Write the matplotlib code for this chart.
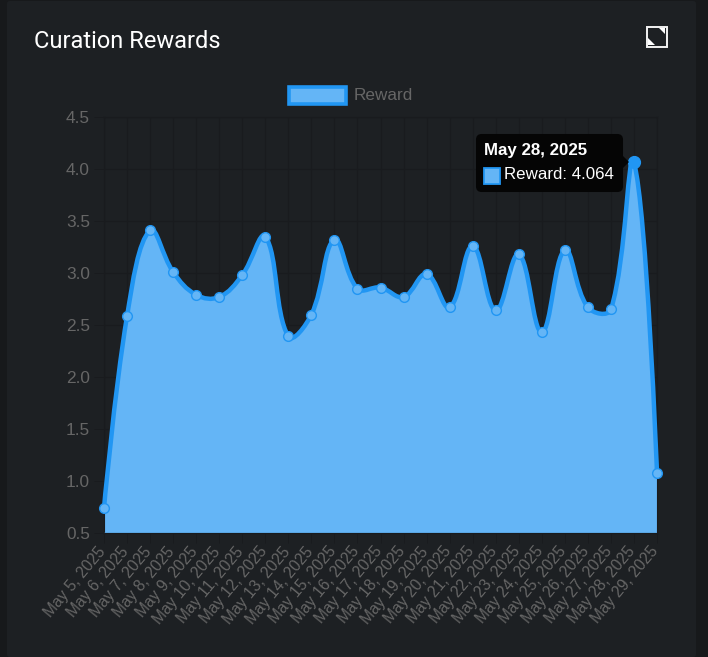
import matplotlib
matplotlib.use('Agg')
import matplotlib.pyplot as plt
from matplotlib.patches import FancyBboxPatch, PathPatch, Polygon, Rectangle
from matplotlib.path import Path
from matplotlib.transforms import ScaledTranslation
import numpy as np

days = list(range(5, 30))
labels = [f'May {d}, 2025' for d in days]
values = [0.74, 2.585, 3.41, 3.01, 2.79, 2.77, 2.98, 3.35, 2.39, 2.60, 3.32, 2.85, 2.86,
          2.77, 2.99, 2.67, 3.26, 2.64, 3.18, 2.43, 3.22, 2.67, 2.65, 4.064, 1.08]
y_ticks = [0.5, 1.0, 1.5, 2.0, 2.5, 3.0, 3.5, 4.0, 4.5]

W, H = 708, 657
OUTER = '#17191b'
PANEL = '#1d2023'
LINE = '#2196f3'
FILL = '#64b5f6'
GREY = '#666666'
GRID = '#191b1e'
TENSION = 0.4

plt.rcParams['font.family'] = ['Liberation Sans', 'DejaVu Sans']


def fx(x):
    return x / W


def fy(y):
    return 1 - y / H


def spline_path(ax, xs, ys):
    # same control point rule as the web chart, worked out in pixels
    pts = ax.transData.transform(np.column_stack([xs, ys]))
    x0, x1 = ax.transData.transform([(0, 0.5), (len(xs) - 1, 4.5)])
    n = len(pts)
    before = pts.copy()
    after = pts.copy()
    for i in range(1, n - 1):
        d01 = np.hypot(*(pts[i] - pts[i - 1]))
        d12 = np.hypot(*(pts[i + 1] - pts[i]))
        s01 = d01 / (d01 + d12)
        s12 = d12 / (d01 + d12)
        diff = pts[i + 1] - pts[i - 1]
        before[i] = pts[i] - TENSION * s01 * diff
        after[i] = pts[i] + TENSION * s12 * diff
    before[:, 0] = np.clip(before[:, 0], x0[0], x1[0])
    after[:, 0] = np.clip(after[:, 0], x0[0], x1[0])
    before[:, 1] = np.clip(before[:, 1], x0[1], x1[1])
    after[:, 1] = np.clip(after[:, 1], x0[1], x1[1])
    verts = [pts[0]]
    for i in range(n - 1):
        verts += [after[i], before[i + 1], pts[i + 1]]
    return ax.transData.inverted().transform(np.array(verts))


fig = plt.figure(figsize=(W / 100, H / 100), dpi=100, facecolor=OUTER)

# card behind the chart
fig.add_artist(FancyBboxPatch((fx(7), fy(657)), fx(689), fy(1) - fy(657),
                              boxstyle='round,pad=0,rounding_size=0.004',
                              transform=fig.transFigure, fc=PANEL, ec='none', zorder=-1))

ax = fig.add_axes([fx(104), fy(533), fx(657) - fx(104), fy(117) - fy(533)], zorder=1)
ax.set_facecolor('none')
xs = np.arange(len(values))
ax.set_xlim(0, len(values) - 1)
ax.set_ylim(0.5, 4.5)
ax.set_xticks(xs)
ax.set_yticks(y_ticks)
ax.set_yticklabels([f'{t:.1f}' for t in y_ticks], fontsize=12.4, color=GREY)
ax.set_xticklabels(labels, fontsize=11.3, color=GREY, rotation=50, ha='right',
                   va='top', rotation_mode='anchor')
ax.tick_params(axis='x', length=7.2, width=0.72, color=GRID, pad=0.7)
ax.tick_params(axis='y', length=7.2, width=0.72, color=GRID, pad=2.9)
ax.grid(True, color=GRID, lw=0.9)
ax.set_axisbelow(True)
for s in ax.spines.values():
    s.set_color(GRID)

# tick labels sit a few px left of the tick
shift = ScaledTranslation(-7 / 100, 0, fig.dpi_scale_trans)
for lab in ax.get_xticklabels():
    lab.set_transform(lab.get_transform() + shift)

curve = spline_path(ax, xs, values)
codes = [Path.MOVETO] + [Path.CURVE4] * (len(curve) - 1)

area_verts = np.vstack([curve, [[xs[-1], 0.5], [xs[0], 0.5], [xs[0], values[0]]]])
area_codes = codes + [Path.LINETO, Path.LINETO, Path.CLOSEPOLY]
ax.add_patch(PathPatch(Path(area_verts, area_codes), fc=FILL, ec='none', zorder=2))
ax.add_patch(PathPatch(Path(curve, codes), fc='none', ec=LINE, lw=3.2, zorder=3,
                       clip_on=False, capstyle='butt', joinstyle='round'))
ax.plot([xs[0], xs[-1]], [0.5, 0.5], color='#4a8fc9', lw=1, zorder=3)
ax.plot(xs, values, ls='none', marker='o', ms=7, mfc=FILL, mec=LINE, mew=1,
        zorder=4, clip_on=False)
ax.plot(xs[23], values[23], ls='none', marker='o', ms=8.5, mfc=LINE, mec=LINE,
        zorder=5, clip_on=False)

# title and expand icon
fig.text(fx(34), fy(41), 'Curation Rewards', family='Roboto', fontsize=17, color='white',
         va='center', ha='left')
fig.add_artist(Rectangle((fx(646.5), fy(46.5)), fx(20.5), fy(26.5) - fy(46.5),
                         transform=fig.transFigure, fc='none', ec='#f2f2f2', lw=1.4))
fig.add_artist(Polygon([(fx(648), fy(45)), (fx(648), fy(38)), (fx(655), fy(45))],
                       transform=fig.transFigure, fc='white', ec='none'))
fig.add_artist(Polygon([(fx(665), fy(28)), (fx(665), fy(34)), (fx(659), fy(28))],
                       transform=fig.transFigure, fc='white', ec='none'))

# legend
fig.add_artist(Rectangle((fx(288.5), fy(103.5)), fx(57), fy(86.5) - fy(103.5),
                         transform=fig.transFigure, fc=FILL, ec=LINE, lw=2.6))
fig.text(fx(354), fy(95), 'Reward', fontsize=12.3, color=GREY, va='center', ha='left')

# tooltip for the hovered point
fig.add_artist(FancyBboxPatch((fx(482), fy(186)), fx(135), fy(140) - fy(186),
                              boxstyle='round,pad=0.0085,rounding_size=0.008',
                              mutation_aspect=W / H,
                              transform=fig.transFigure, fc='#050505', ec='none', zorder=6))
fig.add_artist(Polygon([(fx(623), fy(156)), (fx(629), fy(162)), (fx(623), fy(168))],
                       transform=fig.transFigure, fc='#050505', ec='none', zorder=6))
fig.add_artist(Rectangle((fx(484.5), fy(183.5)), fx(15.5), fy(167.5) - fy(183.5),
                         transform=fig.transFigure, fc=FILL, ec=LINE, lw=1.3, zorder=7))
fig.text(fx(484), fy(150), labels[23], fontsize=12.2, color='white', weight='bold',
         va='center', ha='left', zorder=7)
fig.text(fx(504), fy(175), f'Reward: {values[23]}', fontsize=12.2, color='white',
         va='center', ha='left', zorder=7)

fig.savefig('out.png', dpi=100, facecolor=OUTER)
plt.close()
